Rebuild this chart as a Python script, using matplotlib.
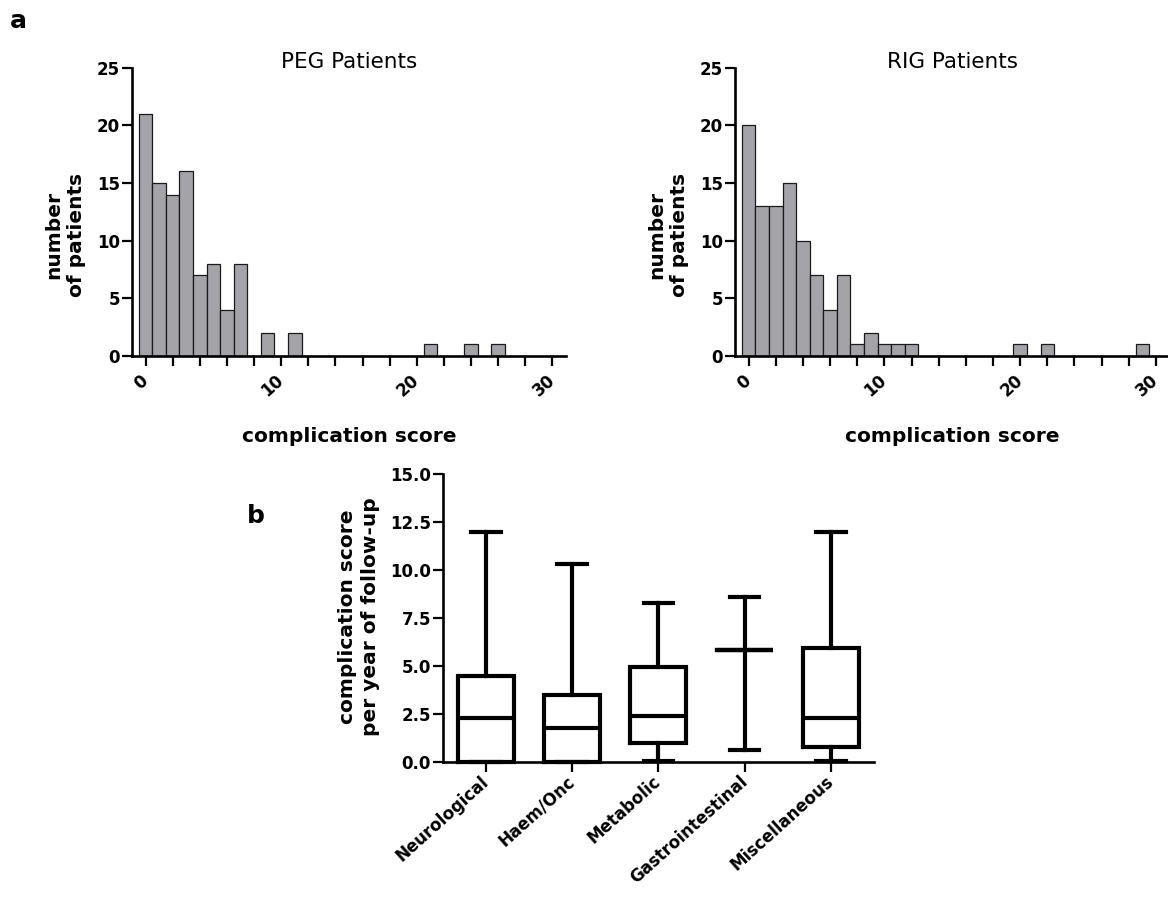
import matplotlib
matplotlib.use("Agg")
import matplotlib.pyplot as plt

plt.rcParams['font.family'] = ['DejaVu Sans']

# ---------------- data ----------------
peg_scores = [0, 1, 2, 3, 4, 5, 6, 7, 9, 11, 21, 24, 26]
peg_counts = [21, 15, 14, 16, 7, 8, 4, 8, 2, 2, 1, 1, 1]

rig_scores = [0, 1, 2, 3, 4, 5, 6, 7, 8, 9, 10, 11, 12, 20, 22, 29]
rig_counts = [20, 13, 13, 15, 10, 7, 4, 7, 1, 2, 1, 1, 1, 1, 1, 1]

hist_xticks = [0, 2, 4, 6, 8, 10, 12, 14, 16, 18, 20, 22, 24, 26, 28, 30]
hist_xticklabels = ["0", "", "", "", "", "10", "", "", "", "", "20", "", "", "", "", "30"]
hist_yticks = [0, 5, 10, 15, 20, 25]

categories = ["Neurological", "Haem/Onc", "Metabolic", "Gastrointestinal", "Miscellaneous"]
box_min = [0.0, 0.0, 0.05, 0.65, 0.05]
box_q1 = [0.0, 0.0, 1.0, 5.85, 0.8]
box_med = [2.3, 1.8, 2.4, 5.85, 2.3]
box_q3 = [4.5, 3.5, 4.95, 5.85, 5.95]
box_max = [12.0, 10.35, 8.3, 8.6, 12.0]
box_yticks = [0.0, 2.5, 5.0, 7.5, 10.0, 12.5, 15.0]
box_yticklabels = ["0.0", "2.5", "5.0", "7.5", "10.0", "12.5", "15.0"]

# ---------------- figure ----------------
W, H = 1168, 907
fig = plt.figure(figsize=(W / 100, H / 100), dpi=100)


def px_axes(left, top, right, bottom):
    return fig.add_axes([left / W, 1 - bottom / H, (right - left) / W, (bottom - top) / H])


BAR_COLOR = "#a3a3a8"
TICK_FS = 12
LABEL_FS = 14.5
ROT = 42


def style_hist(ax, scores, counts, title):
    ax.bar(scores, counts, width=1.0, color=BAR_COLOR, edgecolor="#1a1a1a", linewidth=0.9, zorder=2)
    ax.set_xlim(-1, 31)
    ax.set_ylim(0, 25)
    for s in ["top", "right"]:
        ax.spines[s].set_visible(False)
    for s in ["left", "bottom"]:
        ax.spines[s].set_linewidth(1.9)
        ax.spines[s].set_zorder(3)
    ax.set_xticks(hist_xticks)
    ax.set_xticklabels(hist_xticklabels, rotation=ROT, ha="right", va="center",
                       rotation_mode="anchor", fontsize=TICK_FS, fontweight="bold")
    ax.set_yticks(hist_yticks)
    ax.set_yticklabels([str(v) for v in hist_yticks], fontsize=TICK_FS, fontweight="bold")
    ax.tick_params(axis="x", direction="out", length=7, width=1.6, pad=9)
    ax.tick_params(axis="y", direction="out", length=7, width=1.6, pad=1.5)
    ax.set_xlabel("complication score", fontsize=LABEL_FS, fontweight="bold", va="top")
    ax.xaxis.set_label_coords(0.5, -0.245)
    ax.set_ylabel("number\nof patients", fontsize=LABEL_FS, fontweight="bold",
                  linespacing=1.3)
    ax.yaxis.set_label_coords(-0.105, 0.42)
    ax.text(0.5, 1.02, title, transform=ax.transAxes, ha="center", va="center",
            fontsize=15.5)


ax1 = px_axes(132, 67.7, 566, 356)
style_hist(ax1, peg_scores, peg_counts, "PEG Patients")

ax2 = px_axes(735, 67.7, 1169.5, 356)
style_hist(ax2, rig_scores, rig_counts, "RIG Patients")

# ---------------- box plot ----------------
ax3 = px_axes(442.7, 474.3, 874.2, 762.3)
stats = []
for i in range(len(categories)):
    stats.append(dict(med=box_med[i], q1=box_q1[i], q3=box_q3[i],
                      whislo=box_min[i], whishi=box_max[i], fliers=[],
                      label=categories[i]))
LW = 3.0
art = ax3.bxp(stats, positions=list(range(len(categories))), widths=0.65,
              capwidths=0.34, showfliers=False, patch_artist=False,
              boxprops=dict(color="black", linewidth=LW),
              whiskerprops=dict(color="black", linewidth=LW),
              capprops=dict(color="black", linewidth=LW),
              medianprops=dict(color="black", linewidth=LW))
for key in art:
    for a in art[key]:
        a.set_clip_on(False)
        a.set_solid_joinstyle("miter")
ax3.set_xlim(-0.5, 4.5)
ax3.set_ylim(0, 15)
for s in ["top", "right"]:
    ax3.spines[s].set_visible(False)
for s in ["left", "bottom"]:
    ax3.spines[s].set_linewidth(1.9)
ax3.set_yticks(box_yticks)
ax3.set_yticklabels(box_yticklabels, fontsize=TICK_FS, fontweight="bold")
ax3.set_xticks(list(range(len(categories))))
ax3.set_xticklabels(categories, rotation=ROT, ha="right", va="center",
                    rotation_mode="anchor", fontsize=12, fontweight="bold")
ax3.tick_params(axis="x", direction="out", length=7, width=1.6, pad=5)
ax3.tick_params(axis="y", direction="out", length=7, width=1.6, pad=1.5)
ax3.set_ylabel("complication score\nper year of follow-up", fontsize=LABEL_FS,
               fontweight="bold", linespacing=1.3)
ax3.yaxis.set_label_coords(-0.145, 0.505)

# panel letters
fig.text(10 / W, 1 - 28 / H, "a", fontsize=18, fontweight="bold", va="baseline")
fig.text(247 / W, 1 - 523 / H, "b", fontsize=18, fontweight="bold", va="baseline")

fig.savefig("out.png", dpi=100)
